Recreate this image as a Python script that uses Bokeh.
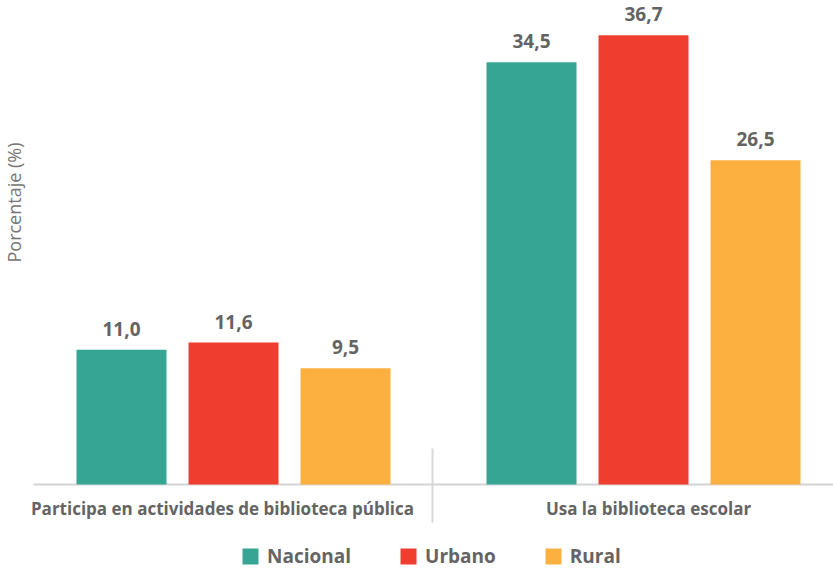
from bokeh.plotting import figure
from bokeh.models import Range1d, ColumnDataSource, Legend, LegendItem
from bokeh.core.properties import value
from bokeh.embed import file_html
from bokeh.resources import INLINE
import math

# ---- data ----
categories = ["Participa en actividades de biblioteca pública", "Usa la biblioteca escolar"]
series = ["Nacional", "Urbano", "Rural"]
nacional = [11.0, 34.5]
urbano = [11.6, 36.7]
rural = [9.5, 26.5]
values = [nacional, urbano, rural]
colors = ["#36a593", "#ef3e2f", "#fbb040"]
y_title = "Porcentaje (%)"

# ---- layout constants (pixel-based scale) ----
W, H = 833, 569
PX_X = 112.0          # px per slot
PX_Y = 12.24          # px per percentage unit
X0 = 233              # x of group 1 centre
Y0 = 484              # y (from top) of baseline
GROUP_STEP = (643 - 233) / PX_X
BAR_W = 90 / PX_X
CAT_X_SHIFT = [-11, 5]   # pixel nudges of category labels

FONT_NAME = "Open Sans"
FONT = value(FONT_NAME)
GRAY = "#646464"

x_start = -X0 / PX_X
x_end = (W - X0) / PX_X
y_end = Y0 / PX_Y
y_start = -(H - Y0) / PX_Y

p = figure(width=W, height=H, x_range=Range1d(x_start, x_end), y_range=Range1d(y_start, y_end),
           x_axis_type=None, y_axis_type=None, output_backend="svg", toolbar_location=None,
           min_border_left=0, min_border_right=0, min_border_top=0, min_border_bottom=0)
p.outline_line_color = None
p.grid.visible = False
p.background_fill_color = "white"
p.border_fill_color = "white"

# baseline and separator
p.segment(x0=[(33 - X0) / PX_X], y0=[0], x1=[x_end], y1=[0], line_color="#d4d4d4", line_width=2)
sep_x = (432 - X0) / PX_X
p.segment(x0=[sep_x], y0=[(484 - 448) / PX_Y], x1=[sep_x], y1=[-(522 - 484) / PX_Y],
          line_color="#d9d9d9", line_width=2)

renderers = []
for s, (name, vals, col) in enumerate(zip(series, values, colors)):
    xs = [g * GROUP_STEP + (s - 1) for g in range(len(categories))]
    src = ColumnDataSource(dict(x=xs, top=vals, lab=[f"{v:.1f}".replace(".", ",") for v in vals]))
    r = p.vbar(x="x", top="top", bottom=0, width=BAR_W, source=src, fill_color=col, line_color=None)
    renderers.append((name, r))
    p.text(x="x", y="top", text="lab", source=src, text_align="center", text_baseline="alphabetic",
           y_offset=-21, text_font=FONT, text_font_style="bold", text_font_size="19px", text_color=GRAY)

# category labels
cat_src = ColumnDataSource(dict(x=[g * GROUP_STEP for g in range(len(categories))],
                                y=[-(508 - 484) / PX_Y] * len(categories), t=categories,
                                dx=CAT_X_SHIFT))
p.text(x="x", y="y", text="t", source=cat_src, x_offset="dx", text_align="center",
       text_baseline="middle", text_font=FONT, text_font_style="bold", text_font_size="17px",
       text_color=GRAY)

# y title
p.text(x=[(13 - X0) / PX_X], y=[(484 - 202) / PX_Y], text=[y_title], angle=math.pi / 2,
       text_align="center", text_baseline="middle", text_font=FONT, text_font_size="18px",
       text_color="#757575")

legend = Legend(items=[LegendItem(label=n, renderers=[r]) for n, r in renderers],
                orientation="horizontal", location=(240, 0),
                glyph_width=20, glyph_height=20, label_standoff=7, spacing=47, padding=0,
                border_line_color=None, background_fill_alpha=0, margin=0,
                label_text_font=FONT_NAME, label_text_font_style="bold", label_text_font_size="19px",
                label_text_color=GRAY, label_height=20)
p.add_layout(legend, "center")

open("out.html", "w").write(file_html(p, INLINE))
